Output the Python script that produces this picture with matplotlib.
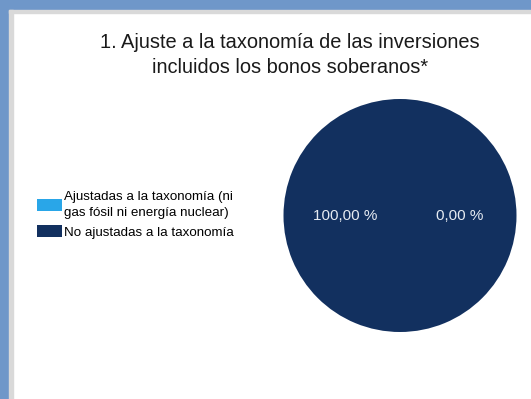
import matplotlib
matplotlib.use("Agg")
import matplotlib.pyplot as plt
from matplotlib.patches import Rectangle, Patch

plt.rcParams['font.family'] = ['Liberation Sans', 'DejaVu Sans']

title = "1. Ajuste a la taxonomía de las inversiones\nincluidos los bonos soberanos*"
categories = ["Ajustadas a la taxonomía (ni\ngas fósil ni energía nuclear)",
              "No ajustadas a la taxonomía"]
values = [0.0, 100.0]
value_labels = ["0,00 %", "100,00 %"]
colors = ["#29a6e8", "#12305f"]

W, H = 531, 399
fig = plt.figure(figsize=(W / 100, H / 100), dpi=100)
fig.patch.set_facecolor("white")

# frame
blue = "#6f97c9"
grey = "#d9d9d9"
fig.patches.append(Rectangle((0, 1 - 10 / H), 1, 10 / H, transform=fig.transFigure, color=blue, zorder=0))
fig.patches.append(Rectangle((0, 0), 9 / W, 1, transform=fig.transFigure, color=blue, zorder=0))
fig.patches.append(Rectangle((9 / W, 1 - 13 / H), 1, 3 / H, transform=fig.transFigure, color=grey, zorder=0))
fig.patches.append(Rectangle((9 / W, 0), 4 / W, 1 - 10 / H, transform=fig.transFigure, color=grey, zorder=0))

fig.text(290 / W, 1 - 55 / H, title, ha="center", va="center", fontsize=14.4,
         color="#1a1a1a", linespacing=1.4)

# pie
cx, cy, r = 400, 215.5, 116.5
ax = fig.add_axes([(cx - r) / W, 1 - (cy + r) / H, 2 * r / W, 2 * r / H])
ax.pie(values, colors=colors, startangle=90, counterclock=False, radius=1.0,
       wedgeprops=dict(linewidth=0))
ax.set_xlim(-1, 1)
ax.set_ylim(-1, 1)
ax.set_aspect("equal")
ax.axis("off")
ax.text(0.515, 0.0, value_labels[0], ha="center", va="center", color="#e6ebf2", fontsize=11)
ax.text(-0.47, 0.0, value_labels[1], ha="center", va="center", color="#e6ebf2", fontsize=11)

handles = [Patch(facecolor=c, edgecolor="none") for c in colors]
leg = fig.legend(handles, categories, loc="center left", bbox_to_anchor=(37 / W, 1 - 215 / H),
                 frameon=False, fontsize=9.6, handlelength=1.9, handleheight=1.0,
                 handletextpad=0.12, labelspacing=0.45, borderpad=0, borderaxespad=0)
for t in leg.get_texts():
    t.set_linespacing(1.5)

fig.savefig("out.png", dpi=100, facecolor="white")
